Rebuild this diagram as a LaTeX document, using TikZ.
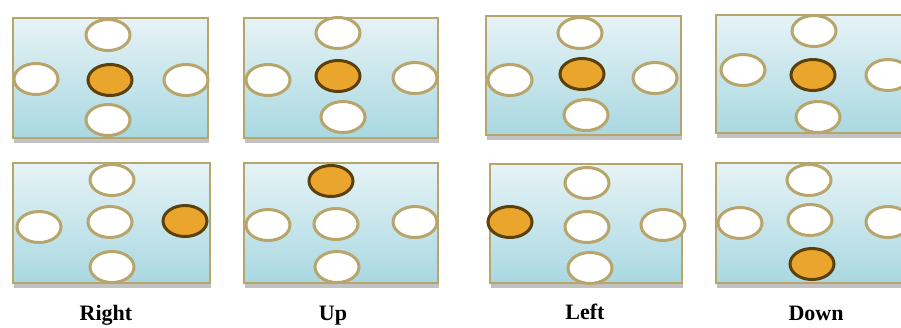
\documentclass[tikz,border=0pt]{standalone}
\usepackage{fontspec}
\setmainfont{Liberation Serif}
\usetikzlibrary{shapes.geometric,shadows}
\definecolor{frame}{HTML}{B7A56C}
\definecolor{paneltop}{HTML}{E6F3F6}
\definecolor{panelbot}{HTML}{A9D8E1}
\definecolor{amber}{HTML}{EAA62C}
\definecolor{amberedge}{HTML}{5C400C}
\tikzset{
  panel/.style={draw=frame, line width=2pt, top color=paneltop, bottom color=panelbot,
    drop shadow={shadow xshift=1pt, shadow yshift=-5pt, opacity=0.35, fill=black!70},
    rectangle, inner sep=0pt},
  cell/.style={ellipse, draw=frame, line width=3pt, fill=white, minimum width=44pt,
    minimum height=31pt, inner sep=0pt},
  active/.style={cell, draw=amberedge, fill=amber},
  caption/.style={font=\bfseries\fontsize{22}{24}\selectfont, inner sep=0pt}
}
\begin{document}
\begin{tikzpicture}[x=1pt,y=-1pt]
\useasboundingbox (0,0) rectangle (901,327);
\clip (0,0) rectangle (901,327);

% top row panels
\node[panel, minimum width=195pt, minimum height=120pt] (p1) at (110.5,78) {};
\node[panel, minimum width=194pt, minimum height=120pt] (p2) at (341,77.5) {};
\node[panel, minimum width=195pt, minimum height=119pt] (p3) at (583.5,75) {};
\node[panel, minimum width=195pt, minimum height=118pt] (p4) at (813.5,74) {};
% bottom row panels
\node[panel, minimum width=197pt, minimum height=120pt] (q1) at (111.5,223) {};
\node[panel, minimum width=194pt, minimum height=120pt] (q2) at (341,223) {};
\node[panel, minimum width=192pt, minimum height=119pt] (q3) at (586,223.5) {};
\node[panel, minimum width=195pt, minimum height=120pt] (q4) at (813.5,223) {};

% top row: centre cell active
\node[cell] (p1t) at (108,35) {};
\node[cell] (p1l) at (36,79) {};
\node[active] (p1c) at (110,80) {};
\node[cell] (p1r) at (186,80) {};
\node[cell] (p1b) at (108,120) {};

\node[cell] (p2t) at (338,33) {};
\node[cell] (p2l) at (268,80) {};
\node[active] (p2c) at (338,76) {};
\node[cell] (p2r) at (415,78) {};
\node[cell] (p2b) at (343,117) {};

\node[cell] (p3t) at (580,33) {};
\node[cell] (p3l) at (510,80) {};
\node[active] (p3c) at (582,74) {};
\node[cell] (p3r) at (655,78) {};
\node[cell] (p3b) at (586,115) {};

\node[cell] (p4t) at (814,31) {};
\node[cell] (p4l) at (743,70) {};
\node[active] (p4c) at (813,75) {};
\node[cell] (p4r) at (888,75) {};
\node[cell] (p4b) at (818,117) {};

% bottom row: moved cell active
\node[cell] (q1t) at (112,180) {};
\node[cell] (q1c) at (110,222) {};
\node[cell] (q1l) at (39,227) {};
\node[active] (q1r) at (185,221) {};
\node[cell] (q1b) at (112,267) {};

\node[active] (q2t) at (331,181) {};
\node[cell] (q2c) at (336,224) {};
\node[cell] (q2l) at (268,225) {};
\node[cell] (q2r) at (415,222) {};
\node[cell] (q2b) at (337,267) {};

\node[cell] (q3t) at (587,183) {};
\node[cell] (q3c) at (587,227) {};
\node[active] (q3l) at (510,222) {};
\node[cell] (q3r) at (663,225) {};
\node[cell] (q3b) at (590,268) {};

\node[cell] (q4t) at (809,180) {};
\node[cell] (q4c) at (810,220) {};
\node[cell] (q4l) at (740,223) {};
\node[cell] (q4r) at (888,222) {};
\node[active] (q4b) at (812,264) {};

% captions
\node[caption] (c1) at (106,315) {Right};
\node[caption] (c2) at (333,316) {Up};
\node[caption] (c3) at (585,312) {Left};
\node[caption] (c4) at (816,313) {Down};
\end{tikzpicture}
\end{document}
